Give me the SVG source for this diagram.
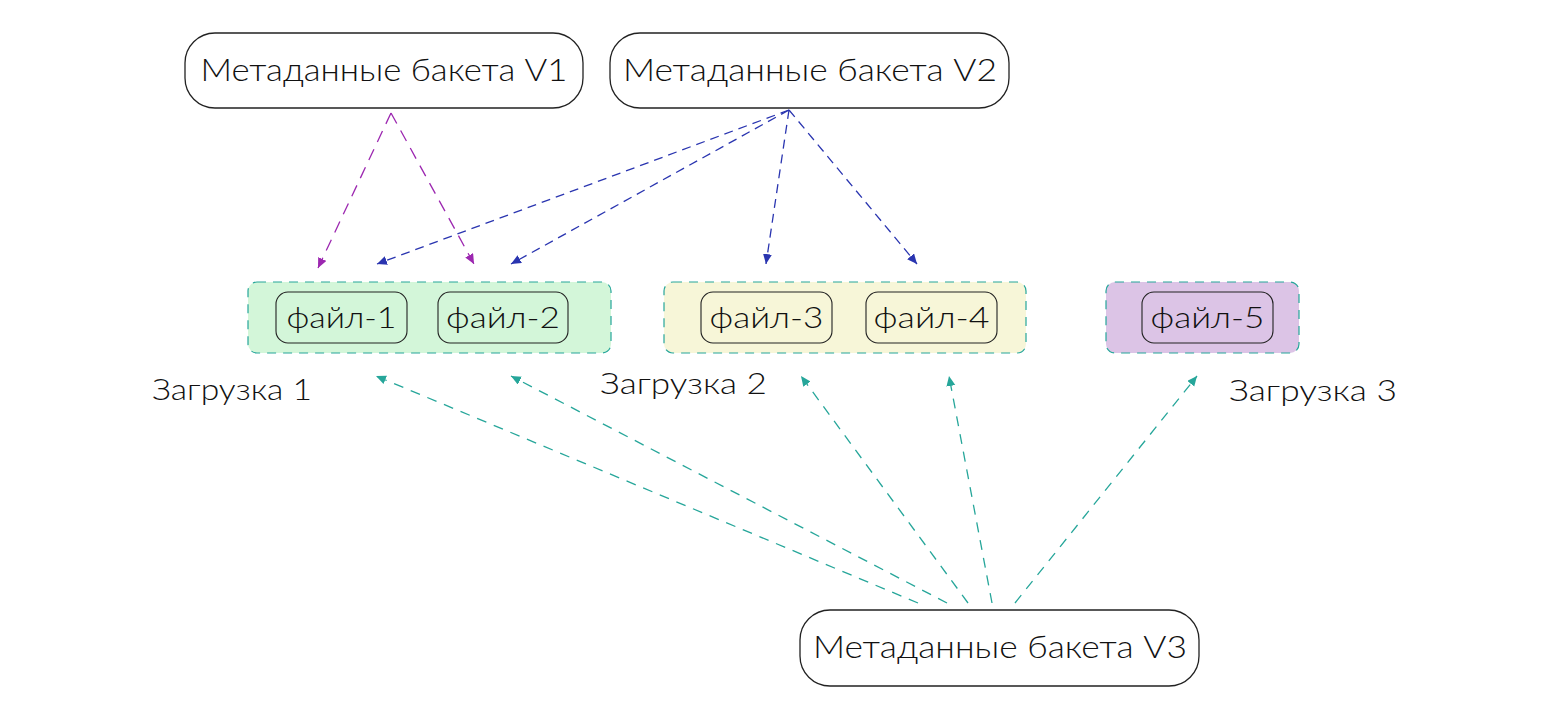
<svg xmlns="http://www.w3.org/2000/svg" width="1547" height="718" viewBox="0 0 1547 718">
<style>
.node{fill:#fff;stroke:#222;stroke-width:1.3}
.file{fill:none;stroke:#222;stroke-width:1.1}
.grp{stroke:#26a69a;stroke-width:1.2;stroke-dasharray:9 7}
.t{font-family:Lato,"Noto Sans","Liberation Sans",sans-serif;font-weight:300;fill:#111}
.big{font-size:31px}
.mid{font-size:29px}
.p{stroke:#9c27b0;stroke-width:1.3;stroke-dasharray:12 8;fill:none}
.b{stroke:#2a35b0;stroke-width:1.3;stroke-dasharray:9 6;fill:none}
.g{stroke:#26a69a;stroke-width:1.3;stroke-dasharray:10 8;fill:none}
</style>
<defs>
<marker id="mp" markerUnits="userSpaceOnUse" markerWidth="12" markerHeight="10" refX="10" refY="4.5" orient="auto"><path d="M0,0L10,4.5L0,9z" fill="#9c27b0"/></marker>
<marker id="mb" markerUnits="userSpaceOnUse" markerWidth="12" markerHeight="10" refX="10" refY="4.5" orient="auto"><path d="M0,0L10,4.5L0,9z" fill="#2a35b0"/></marker>
<marker id="mg" markerUnits="userSpaceOnUse" markerWidth="12" markerHeight="10" refX="10" refY="4.5" orient="auto"><path d="M0,0L10,4.5L0,9z" fill="#26a69a"/></marker>
</defs>
<rect width="1547" height="718" fill="#fff"/>
<g id="connectors">
<path class="p" d="M391,113L318,268" marker-end="url(#mp)"/>
<path class="p" d="M391,113L474,264" marker-end="url(#mp)"/>
<path class="b" d="M789,110L377,264" marker-end="url(#mb)"/>
<path class="b" d="M789,110L511,264" marker-end="url(#mb)"/>
<path class="b" d="M789,110L766,264" marker-end="url(#mb)"/>
<path class="b" d="M789,110L917,264" marker-end="url(#mb)"/>
<path class="g" d="M918,603L376,376" marker-end="url(#mg)"/>
<path class="g" d="M947,603L511,376" marker-end="url(#mg)"/>
<path class="g" d="M968,603L801,376" marker-end="url(#mg)"/>
<path class="g" d="M992,603L949,376" marker-end="url(#mg)"/>
<path class="g" d="M1015,603L1197,376" marker-end="url(#mg)"/>
</g>
<g id="v1">
<rect class="node" x="185" y="33" width="398" height="75" rx="30"/>
<text class="t big" x="384" y="81" text-anchor="middle" textLength="367" lengthAdjust="spacingAndGlyphs">Метаданные бакета V1</text>
</g>
<g id="v2">
<rect class="node" x="610" y="33" width="399" height="75" rx="30"/>
<text class="t big" x="810" y="81" text-anchor="middle" textLength="374" lengthAdjust="spacingAndGlyphs">Метаданные бакета V2</text>
</g>
<g id="v3">
<rect class="node" x="800" y="610" width="399" height="76" rx="30"/>
<text class="t big" x="1000" y="658" text-anchor="middle" textLength="374" lengthAdjust="spacingAndGlyphs">Метаданные бакета V3</text>
</g>
<g id="upload1">
<rect class="grp" x="248" y="282" width="363" height="71" rx="9" fill="#d3f6d9"/>
<g id="file1">
<rect class="file" x="276" y="292" width="131" height="51" rx="12"/>
<text class="t mid" x="341.5" y="328" text-anchor="middle" textLength="110" lengthAdjust="spacingAndGlyphs">файл-1</text>
</g>
<g id="file2">
<rect class="file" x="438" y="292" width="130" height="51" rx="12"/>
<text class="t mid" x="503" y="328" text-anchor="middle" textLength="114" lengthAdjust="spacingAndGlyphs">файл-2</text>
</g>
<text class="t mid" x="152" y="400" textLength="160" lengthAdjust="spacingAndGlyphs">Загрузка 1</text>
</g>
<g id="upload2">
<rect class="grp" x="664" y="282" width="362" height="71" rx="9" fill="#f7f6d8"/>
<g id="file3">
<rect class="file" x="701" y="292" width="131" height="51" rx="12"/>
<text class="t mid" x="766.5" y="328" text-anchor="middle" textLength="114" lengthAdjust="spacingAndGlyphs">файл-3</text>
</g>
<g id="file4">
<rect class="file" x="866" y="292" width="131" height="51" rx="12"/>
<text class="t mid" x="931.5" y="328" text-anchor="middle" textLength="116" lengthAdjust="spacingAndGlyphs">файл-4</text>
</g>
<text class="t mid" x="600" y="394" textLength="167" lengthAdjust="spacingAndGlyphs">Загрузка 2</text>
</g>
<g id="upload3">
<rect class="grp" x="1106" y="282" width="193" height="71" rx="9" fill="#dcc4e6"/>
<g id="file5">
<rect class="file" x="1142" y="292" width="131" height="51" rx="12"/>
<text class="t mid" x="1207.5" y="328" text-anchor="middle" textLength="114" lengthAdjust="spacingAndGlyphs">файл-5</text>
</g>
<text class="t mid" x="1229" y="401" textLength="168" lengthAdjust="spacingAndGlyphs">Загрузка 3</text>
</g>
</svg>
